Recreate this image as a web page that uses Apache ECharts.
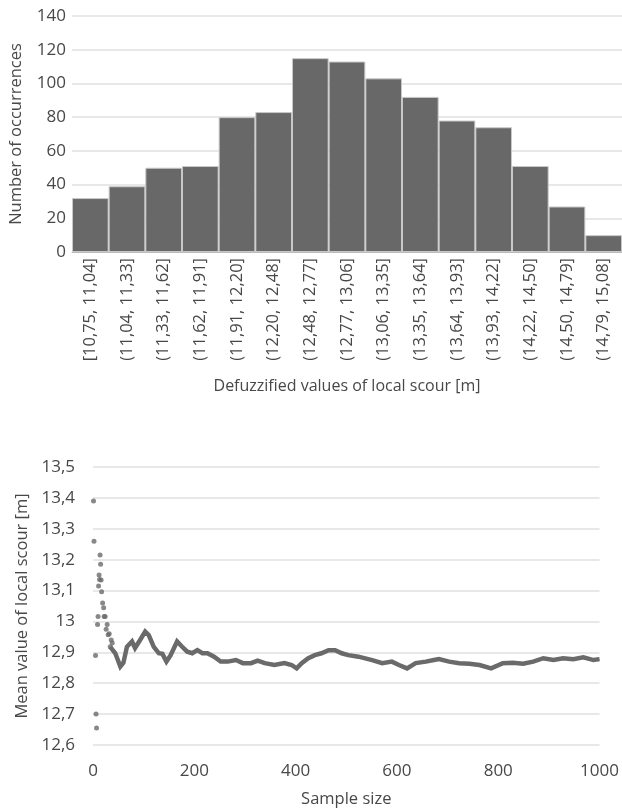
<!DOCTYPE html>
<html>
<head>
<meta charset="utf-8">
<script src="https://cdn.jsdelivr.net/npm/echarts@6/dist/echarts.min.js"></script>
<style>
html,body{margin:0;padding:0;background:#fff;}
#chart{width:622px;height:810px;}
</style>
</head>
<body>
<div id="chart"></div>
<script>
// ---- Histogram data ----
const categories = ['[10,75, 11,04]','(11,04, 11,33]','(11,33, 11,62]','(11,62, 11,91]','(11,91, 12,20]','(12,20, 12,48]','(12,48, 12,77]','(12,77, 13,06]','(13,06, 13,35]','(13,35, 13,64]','(13,64, 13,93]','(13,93, 14,22]','(14,22, 14,50]','(14,50, 14,79]','(14,79, 15,08]'];
const occurrences = [32,39,50,51,80,83,115,113,103,92,78,74,51,27,10];

// ---- Running mean data ----
const scatterSamples = [1,2,5,6,7,9,10,11,12,13,14,15,16,17,19,21,22,24,26,28,30,32,34,36,38];
const scatterMeans = [13.39,13.26,12.89,12.70,12.655,12.99,13.016,13.115,13.15,13.136,13.215,13.185,13.134,13.096,13.06,13.044,13.016,13.016,12.975,12.99,12.957,12.96,12.918,12.94,12.93];
const traceSamples = [34,44,54,60,67,77,83,93,103,110,120,130,137,145,153,166,176,186,196,206,216,226,239,252,266,282,296,312,325,339,358,378,392,402,412,425,438,451,465,478,491,504,524,551,571,590,604,620,637,657,673,683,703,723,743,763,786,809,829,849,869,889,909,928,948,968,988,1000];
const traceMeans = [12.918,12.897,12.854,12.866,12.918,12.935,12.914,12.94,12.967,12.956,12.918,12.897,12.895,12.87,12.89,12.935,12.918,12.902,12.897,12.907,12.897,12.897,12.886,12.87,12.87,12.875,12.865,12.865,12.873,12.865,12.859,12.865,12.859,12.848,12.865,12.881,12.891,12.897,12.907,12.907,12.897,12.891,12.886,12.875,12.865,12.870,12.859,12.848,12.865,12.87,12.875,12.878,12.87,12.865,12.863,12.859,12.848,12.865,12.866,12.863,12.87,12.881,12.875,12.881,12.878,12.884,12.875,12.878];
const xTicks = [0,200,400,600,800,1000];

const FONT = 'Open Sans';
const TXT = '#484848';
const GRID = '#e0e0e0';

const chart = echarts.init(document.getElementById('chart'), null, {renderer:'canvas'});
chart.setOption({
  animation:false,
  backgroundColor:'#fff',
  textStyle:{fontFamily:FONT},
  grid:[
    {left:72, top:16, width:550, height:236},
    {left:93, top:467, width:507, height:278}
  ],
  xAxis:[
    {
      gridIndex:0, type:'category', data:categories,
      axisLine:{show:true, lineStyle:{color:'#bbb', width:1}},
      axisTick:{show:false},
      axisLabel:{rotate:90, fontSize:16.5, color:TXT, fontFamily:FONT, margin:6, interval:0},
      name:'Defuzzified values of local scour [m]', nameLocation:'middle', nameGap:126,
      nameTextStyle:{fontSize:16, color:TXT, fontFamily:FONT}
    },
    {
      gridIndex:1, type:'value', min:0, max:1000, interval:200,
      axisLine:{show:false}, axisTick:{show:false}, splitLine:{show:false},
      axisLabel:{fontSize:17, color:TXT, fontFamily:FONT, margin:18,
        formatter:v=>String(v)},
      name:'Sample size', nameLocation:'middle', nameGap:46,
      nameTextStyle:{fontSize:16.5, color:TXT, fontFamily:FONT}
    }
  ],
  yAxis:[
    {
      gridIndex:0, type:'value', min:0, max:140, interval:20,
      axisLine:{show:false}, axisTick:{show:false},
      splitLine:{lineStyle:{color:GRID, width:1.5}},
      axisLabel:{fontSize:17, color:TXT, fontFamily:FONT, margin:6},
      name:'Number of occurrences', nameLocation:'middle', nameGap:47, nameRotate:90,
      nameTextStyle:{fontSize:16.5, color:TXT, fontFamily:FONT}
    },
    {
      gridIndex:1, type:'value', min:12.6, max:13.5, interval:0.1,
      axisLine:{show:false}, axisTick:{show:false},
      splitLine:{lineStyle:{color:GRID, width:1.5}},
      axisLabel:{fontSize:17, color:TXT, fontFamily:FONT, margin:18,
        formatter:v=>String(+v.toFixed(1)).replace('.',',')},
      name:'Mean value of local scour [m]', nameLocation:'middle', nameGap:60, nameRotate:90,
      nameTextStyle:{fontSize:16.5, color:TXT, fontFamily:FONT}
    }
  ],
  series:[
    {
      type:'bar', xAxisIndex:0, yAxisIndex:0, data:occurrences,
      barCategoryGap:'0%',
      itemStyle:{color:'#686868', borderColor:'#c8c8c8', borderWidth:1}
    },
    {
      type:'line', xAxisIndex:1, yAxisIndex:1,
      data:traceSamples.map((s,i)=>[s,traceMeans[i]]),
      showSymbol:false, symbol:'none',
      lineStyle:{color:'#6a6a6a', width:4.5, join:'miter'}
    },
    {
      type:'scatter', xAxisIndex:1, yAxisIndex:1,
      data:scatterSamples.map((s,i)=>[s,scatterMeans[i]]),
      symbolSize:5, itemStyle:{color:'#6a6a6a'}
    }
  ]
});
</script>
</body>
</html>
